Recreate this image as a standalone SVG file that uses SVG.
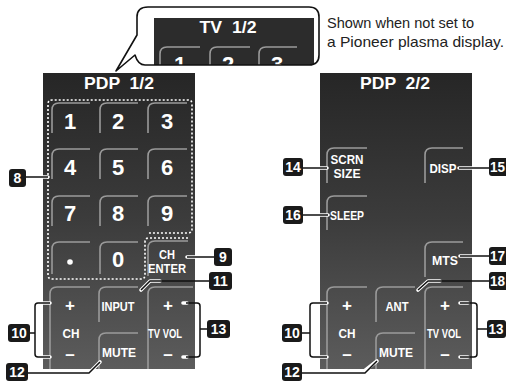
<svg xmlns="http://www.w3.org/2000/svg" width="506" height="382" viewBox="0 0 506 382">
<defs>
<linearGradient id="pg" x1="0" y1="0" x2="0" y2="1">
<stop offset="0" stop-color="#262626"/>
<stop offset="0.5" stop-color="#3c3c3c"/>
<stop offset="1" stop-color="#5c5c5c"/>
</linearGradient>
<clipPath id="bub">
<path d="M 148,7 H 309 Q 319,7 319,17 V 55 Q 319,65 309,65 H 145 Q 138,65 135,55 L 116,71 L 137,35 V 17 Q 137,7 148,7 Z"/>
</clipPath>
<style>
.panel{fill:url(#pg)}
.key{fill:none;stroke:#9a9a9a;stroke-width:1.6}
.dig{font-family:"Liberation Sans",Arial,sans-serif;font-weight:bold;font-size:22px;fill:#fff;text-anchor:middle}
.kl{font-family:"Liberation Sans",Arial,sans-serif;font-weight:bold;font-size:13px;fill:#fff;text-anchor:middle}
.pm{font-family:"Liberation Sans",Arial,sans-serif;font-weight:bold;font-size:17px;fill:#fff;text-anchor:middle}
.hd{font-family:"Liberation Sans",Arial,sans-serif;font-weight:bold;font-size:17px;fill:#fff;text-anchor:middle}
.tag{fill:#1a1a1a}
.tagt{font-family:"Liberation Sans",Arial,sans-serif;font-weight:bold;font-size:14px;fill:#fff;text-anchor:middle}
.halo{fill:none;stroke:#fff;stroke-width:3.6;stroke-linejoin:round;stroke-linecap:round}
.lead{fill:none;stroke:#111;stroke-width:1.5;stroke-linejoin:round}
.dot{fill:none;stroke:#fff;stroke-width:1.6;stroke-dasharray:2 2}
.note{font-family:"Liberation Sans",Arial,sans-serif;font-size:15px;fill:#222}
</style>
</defs>

<g id="callout">
<path d="M 148,7 H 309 Q 319,7 319,17 V 55 Q 319,65 309,65 H 145 Q 138,65 135,55 L 116,71 L 137,35 V 17 Q 137,7 148,7 Z" fill="#fff"/>
<g clip-path="url(#bub)">
<rect x="154" y="18" width="160" height="47" fill="#2c2c2c"/>
<text class="hd" x="228" y="33" textLength="57" lengthAdjust="spacingAndGlyphs" xml:space="preserve">TV  1/2</text>
<path class="key" d="M 160,66 V 54 Q 160,47 167,47 H 200"/>
<path class="key" d="M 210,66 V 54 Q 210,47 217,47 H 250"/>
<path class="key" d="M 259,66 V 54 Q 259,47 266,47 H 297"/>
<text class="dig" x="180" y="72">1</text>
<text class="dig" x="228" y="72">2</text>
<text class="dig" x="277" y="72">3</text>
</g>
<path d="M 148,7 H 309 Q 319,7 319,17 V 55 Q 319,65 309,65 H 145 Q 138,65 135,55 L 116,71 L 137,35 V 17 Q 137,7 148,7 Z" fill="none" stroke="#111" stroke-width="1.6" stroke-linejoin="round"/>
</g>

<g id="note">
<text class="note" x="327" y="28" textLength="147" lengthAdjust="spacingAndGlyphs">Shown when not set to</text>
<text class="note" x="327" y="47" textLength="177" lengthAdjust="spacingAndGlyphs">a Pioneer plasma display.</text>
</g>

<g id="panel1">
<rect class="panel" x="43" y="73" width="152" height="296"/>
<text class="hd" x="119" y="89" textLength="70" lengthAdjust="spacingAndGlyphs" xml:space="preserve">PDP  1/2</text>
<g id="numpad">
<path class="dot" d="M 188,238 H 149 Q 145,238 145,242 V 275 Q 145,279 141,279 H 52 Q 48,279 48,275 V 104 Q 48,100 52,100 H 188 Q 192,100 192,104 V 229 Q 192,233 188,233 H 148"/>
<path class="key" d="M 52,133 V 110 Q 52,103 59,103 H 90 M 100,133 V 110 Q 100,103 107,103 H 138 M 148,133 V 110 Q 148,103 155,103 H 187"/>
<path class="key" d="M 52,179 V 156 Q 52,149 59,149 H 90 M 100,179 V 156 Q 100,149 107,149 H 138 M 148,179 V 156 Q 148,149 155,149 H 187"/>
<path class="key" d="M 52,226 V 203 Q 52,196 59,196 H 90 M 100,226 V 203 Q 100,196 107,196 H 138 M 148,226 V 203 Q 148,196 155,196 H 187"/>
<path class="key" d="M 52,274 V 249 Q 52,242 59,242 H 90 M 100,274 V 249 Q 100,242 107,242 H 138"/>
<text class="dig" x="70" y="129">1</text>
<text class="dig" x="118" y="129">2</text>
<text class="dig" x="167" y="129">3</text>
<text class="dig" x="70" y="175">4</text>
<text class="dig" x="118" y="175">5</text>
<text class="dig" x="167" y="175">6</text>
<text class="dig" x="70" y="221">7</text>
<text class="dig" x="118" y="221">8</text>
<text class="dig" x="167" y="221">9</text>
<circle cx="70" cy="262" r="2.8" fill="#fff"/>
<text class="dig" x="118" y="267">0</text>
</g>
<g id="chenter">
<path class="key" d="M 148,276 V 248 Q 148,241 155,241 H 188"/>
<text class="kl" x="167" y="259" textLength="16" lengthAdjust="spacingAndGlyphs">CH</text>
<text class="kl" x="167" y="273" textLength="38" lengthAdjust="spacingAndGlyphs">ENTER</text>
</g>
<g id="ch1">
<path class="key" d="M 50,369 V 294 Q 50,287 57,287 H 90"/>
<text class="pm" x="70" y="311">+</text>
<text class="kl" x="71" y="338" textLength="17" lengthAdjust="spacingAndGlyphs">CH</text>
<text class="pm" x="70" y="360">–</text>
</g>
<g id="input">
<path class="key" d="M 99,322 V 294 Q 99,287 106,287 H 138"/>
<text class="kl" x="118" y="311" textLength="33" lengthAdjust="spacingAndGlyphs">INPUT</text>
</g>
<g id="mute1">
<path class="key" d="M 99,369 V 340 Q 99,333 106,333 H 138"/>
<text class="kl" x="119" y="357" textLength="34" lengthAdjust="spacingAndGlyphs">MUTE</text>
</g>
<g id="tvvol1">
<path class="key" d="M 148,369 V 294 Q 148,287 155,287 H 193"/>
<text class="pm" x="168" y="311">+</text>
<text class="kl" x="165" y="338" textLength="34" lengthAdjust="spacingAndGlyphs">TV VOL</text>
<text class="pm" x="168" y="360">–</text>
</g>
</g>

<g id="panel2">
<rect class="panel" x="320" y="73" width="152" height="296"/>
<text class="hd" x="395" y="89" textLength="70" lengthAdjust="spacingAndGlyphs" xml:space="preserve">PDP  2/2</text>
<g id="scrnsize">
<path class="key" d="M 327,183 V 155 Q 327,148 334,148 H 367"/>
<text class="kl" x="347" y="164" textLength="33" lengthAdjust="spacingAndGlyphs">SCRN</text>
<text class="kl" x="347" y="178" textLength="27" lengthAdjust="spacingAndGlyphs">SIZE</text>
</g>
<g id="disp">
<path class="key" d="M 425,183 V 155 Q 425,148 432,148 H 463"/>
<text class="kl" x="443" y="173" textLength="27" lengthAdjust="spacingAndGlyphs">DISP</text>
</g>
<g id="sleep">
<path class="key" d="M 327,230 V 203 Q 327,196 334,196 H 367"/>
<text class="kl" x="347" y="220" textLength="34" lengthAdjust="spacingAndGlyphs">SLEEP</text>
</g>
<g id="mts">
<path class="key" d="M 425,277 V 249 Q 425,242 432,242 H 463"/>
<text class="kl" x="445" y="265" textLength="26" lengthAdjust="spacingAndGlyphs">MTS</text>
</g>
<g id="ch2">
<path class="key" d="M 327,369 V 294 Q 327,287 334,287 H 367"/>
<text class="pm" x="347" y="311">+</text>
<text class="kl" x="347" y="338" textLength="17" lengthAdjust="spacingAndGlyphs">CH</text>
<text class="pm" x="347" y="360">–</text>
</g>
<g id="ant">
<path class="key" d="M 376,322 V 294 Q 376,287 383,287 H 415"/>
<text class="kl" x="397" y="311" textLength="23" lengthAdjust="spacingAndGlyphs">ANT</text>
</g>
<g id="mute2">
<path class="key" d="M 376,369 V 340 Q 376,333 383,333 H 415"/>
<text class="kl" x="396" y="357" textLength="34" lengthAdjust="spacingAndGlyphs">MUTE</text>
</g>
<g id="tvvol2">
<path class="key" d="M 425,369 V 294 Q 425,287 432,287 H 463"/>
<text class="pm" x="445" y="311">+</text>
<text class="kl" x="444" y="338" textLength="34" lengthAdjust="spacingAndGlyphs">TV VOL</text>
<text class="pm" x="445" y="360">–</text>
</g>
</g>

<g id="connectors">
<path class="halo" d="M 35,177 H 48 M 197,257 H 187 M 160,281 H 150 L 141,290 M 43,303 H 50 M 43,357 H 50 M 90,372 L 100,362 M 183,303 H 187 M 183,357 H 187 M 308,168 H 327 M 478,168 H 459 M 310,215 H 328 M 478,256 H 460 M 440,281 H 428 L 418,290 M 320,303 H 327 M 320,357 H 327 M 363,372 L 377,361 M 460,303 H 468 M 460,357 H 468"/>
<path class="lead" d="M 26,177 H 48"/>
<path class="lead" d="M 187,257 H 214"/>
<path class="lead" d="M 209,281 H 150 L 141,290"/>
<path class="lead" d="M 50,303 H 38 Q 35,303 35,306 V 354 Q 35,357 38,357 H 50 M 30,333 H 35"/>
<path class="lead" d="M 28,373 H 89 L 100,362"/>
<path class="lead" d="M 186,303 H 197 Q 200,303 200,306 V 354 Q 200,357 197,357 H 186 M 200,329 H 207"/>
<path class="lead" d="M 303,168 H 327"/>
<path class="lead" d="M 459,168 H 489"/>
<path class="lead" d="M 303,215 H 328"/>
<path class="lead" d="M 460,256 H 489"/>
<path class="lead" d="M 489,281 H 428 L 418,290"/>
<path class="lead" d="M 327,303 H 313 Q 310,303 310,306 V 354 Q 310,357 313,357 H 327 M 302,333 H 310"/>
<path class="lead" d="M 302,373 H 365 L 377,361"/>
<path class="lead" d="M 460,303 H 474 Q 477,303 477,306 V 354 Q 477,357 474,357 H 460 M 477,329 H 487"/>
</g>

<g id="tag8"><rect class="tag" x="9" y="169" width="17" height="18" rx="3"/><text class="tagt" x="17.5" y="183">8</text></g>
<g id="tag9"><rect class="tag" x="214" y="248" width="18" height="18" rx="3"/><text class="tagt" x="223" y="262">9</text></g>
<g id="tag11"><rect class="tag" x="209" y="272" width="23" height="18" rx="3"/><text class="tagt" x="220.5" y="286">11</text></g>
<g id="tag10a"><rect class="tag" x="8" y="324" width="22" height="18" rx="3"/><text class="tagt" x="19" y="338">10</text></g>
<g id="tag12a"><rect class="tag" x="6" y="363" width="22" height="18" rx="3"/><text class="tagt" x="17" y="377">12</text></g>
<g id="tag13a"><rect class="tag" x="207" y="320" width="23" height="18" rx="3"/><text class="tagt" x="218.5" y="334">13</text></g>
<g id="tag14"><rect class="tag" x="283" y="158" width="20" height="18" rx="3"/><text class="tagt" x="293" y="172">14</text></g>
<g id="tag15"><rect class="tag" x="489" y="158" width="19" height="18" rx="3"/><text class="tagt" x="497.5" y="172" textLength="15" lengthAdjust="spacingAndGlyphs">15</text></g>
<g id="tag16"><rect class="tag" x="283" y="206" width="20" height="18" rx="3"/><text class="tagt" x="293" y="220">16</text></g>
<g id="tag17"><rect class="tag" x="489" y="247" width="19" height="18" rx="3"/><text class="tagt" x="497.5" y="261" textLength="15" lengthAdjust="spacingAndGlyphs">17</text></g>
<g id="tag18"><rect class="tag" x="489" y="272" width="19" height="18" rx="3"/><text class="tagt" x="497.5" y="286" textLength="15" lengthAdjust="spacingAndGlyphs">18</text></g>
<g id="tag10b"><rect class="tag" x="282" y="324" width="20" height="18" rx="3"/><text class="tagt" x="292" y="338">10</text></g>
<g id="tag12b"><rect class="tag" x="282" y="363" width="20" height="18" rx="3"/><text class="tagt" x="292" y="377">12</text></g>
<g id="tag13b"><rect class="tag" x="487" y="320" width="19" height="18" rx="3"/><text class="tagt" x="496" y="334" textLength="15" lengthAdjust="spacingAndGlyphs">13</text></g>
</svg>
